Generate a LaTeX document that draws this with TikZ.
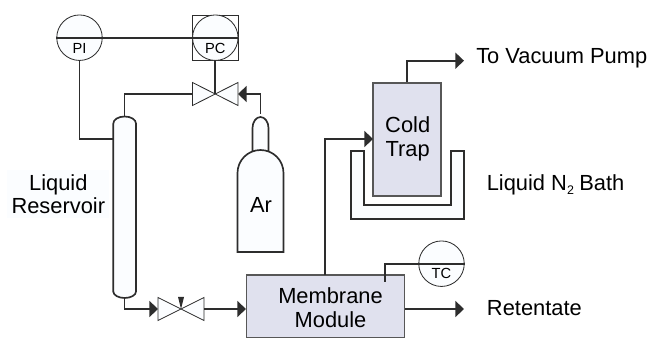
\documentclass[tikz,border=0pt]{standalone}
\usepackage{fontspec}
\setmainfont{Liberation Sans}
\usetikzlibrary{arrows.meta}
\definecolor{boxfill}{RGB}{224,225,238}
\definecolor{tint}{RGB}{251,253,255}
\definecolor{linegray}{RGB}{45,45,45}
\tikzset{
pipe/.style={draw=linegray,line width=1.2pt},
flow/.style={pipe,-{Triangle[length=6.2pt,width=11.5pt]}},
gauge/.style={circle,draw=linegray,line width=.6pt,fill=tint,minimum size=.455in,inner sep=0pt},
vessel/.style={rectangle,draw=linegray!80,line width=.8pt,fill=boxfill,inner sep=0pt},
word/.style={font=\fontsize{15.8pt}{17pt}\selectfont,inner sep=0pt,align=center},
tag/.style={font=\fontsize{10.6pt}{13pt}\selectfont,inner sep=0pt},
valvehalf/.style={draw=linegray,line width=.6pt,fill=tint,line join=miter}
}
\begin{document}
\begin{tikzpicture}[x=1in,y=1in]
\useasboundingbox (0,0) rectangle (6.49in,3.38in);
% instruments
\node [rectangle,draw=linegray,line width=.6pt,minimum size=.455in,inner sep=0pt] (pcbox) at (2.153in,3.003in) {};
\node [gauge] (pi) at (.795in,3.003in) {};
\node [gauge] (pc) at (2.153in,3.003in) {};
\node [gauge] (tc) at (4.415in,.743in) {};
\node [tag] (pitext) at (.795in,2.893in) {PI};
\node [tag] (pctext) at (2.153in,2.893in) {PC};
\node [tag] (tctext) at (4.415in,.65in) {TC};
% valves
\coordinate (vtop) at (2.153in,2.44in);
\coordinate (vlow) at (1.81in,.29in);
\draw [valvehalf] (1.925in,2.555in) -- (2.38in,2.325in) -- (2.38in,2.555in) -- (1.925in,2.325in) -- cycle;
\draw [valvehalf] (1.58in,.405in) -- (2.04in,.175in) -- (2.04in,.405in) -- (1.58in,.175in) -- cycle;
\coordinate (vtopl) at (1.925in,2.44in);
\coordinate (vtopr) at (2.38in,2.44in);
\coordinate (vlowl) at (1.58in,.29in);
\coordinate (vlowr) at (2.04in,.29in);
\fill [linegray] (1.78in,.41in) -- (1.84in,.41in) -- (vlow) -- cycle;
% reservoir and cylinder
\draw [pipe,fill=tint] (1.133in,.465in) -- (1.133in,2.145in) arc [start angle=180,end angle=0,x radius=.1135in,y radius=.07in] -- (1.36in,.465in) arc [start angle=0,end angle=-180,x radius=.1135in,y radius=.065in] -- cycle;
\coordinate (restop) at (1.2465in,2.215in);
\coordinate (resbot) at (1.2465in,.40in);
\coordinate (resleft) at (1.133in,1.99in);
\draw [pipe,fill=tint] (2.525in,1.865in) -- (2.525in,2.10in) arc [start angle=180,end angle=0,x radius=.08in,y radius=.11in] -- (2.685in,1.865in) -- cycle;
\draw [pipe,fill=tint] (2.375in,.86in) -- (2.375in,1.65in) arc [start angle=180,end angle=0,x radius=.23in,y radius=.23in] -- (2.835in,.86in) -- cycle;
\coordinate (arneck) at (2.605in,2.24in);
\node [word] (ar) at (2.61in,1.33in) {Ar};
% bath
\draw [pipe,fill=tint] (3.51in,1.873in) -- (3.643in,1.873in) -- (3.643in,1.33in) -- (4.507in,1.33in) -- (4.507in,1.873in) -- (4.643in,1.873in) -- (4.643in,1.19in) -- (3.51in,1.19in) -- cycle;
% vessels
\node [vessel,minimum width=.68in,minimum height=1.13in] (trap) at (4.07in,1.985in) {};
\node [vessel,minimum width=1.58in,minimum height=.63in] (module) at (3.255in,.315in) {};
\node [word] (traptext) at (4.077in,1.99in) {Cold\\Trap};
\node [word] (modtext) at (3.305in,.305in) {Membrane\\Module};
% labels
\node [word,fill=tint,inner sep=3pt] (restext) at (.583in,1.44in) {Liquid\\Reservoir};
\node [word,anchor=west] (pump) at (4.76in,2.795in) {To Vacuum Pump};
\node [word,anchor=west] (bath) at (4.865in,1.53in) {Liquid N\kern.1pt\raisebox{-2.5pt}{\fontsize{9pt}{12pt}\selectfont 2}\kern-.6pt\ Bath};
\node [word,anchor=west] (ret) at (4.867in,.30in) {Retentate};
\coordinate (pumpend) at (4.64in,2.773in);
\coordinate (retend) at (4.64in,.29in);
\coordinate (modout) at (3.25in,.63in);
\coordinate (trapin) at (3.73in,1.99in);
\coordinate (tcin) at (3.847in,.56in);
% lines
\draw [pipe] (pi.west) -- (pc.east);
\draw [pipe] (pi.south) |- (resleft);
\draw [pipe] (pc.south) -- (vtop);
\draw [pipe] (vtopl) -| (restop);
\draw [flow] (arneck) |- (vtopr);
\draw [flow] (resbot) |- (vlowl);
\draw [flow] (vlowr) -- (module.west |- vlowr);
\draw [flow] (modout) |- (trapin);
\draw [flow] (trap.north) |- (pumpend);
\draw [flow] (module.east |- retend) -- (retend);
\draw [pipe] (tcin) |- (tc.east);
\end{tikzpicture}
\end{document}
